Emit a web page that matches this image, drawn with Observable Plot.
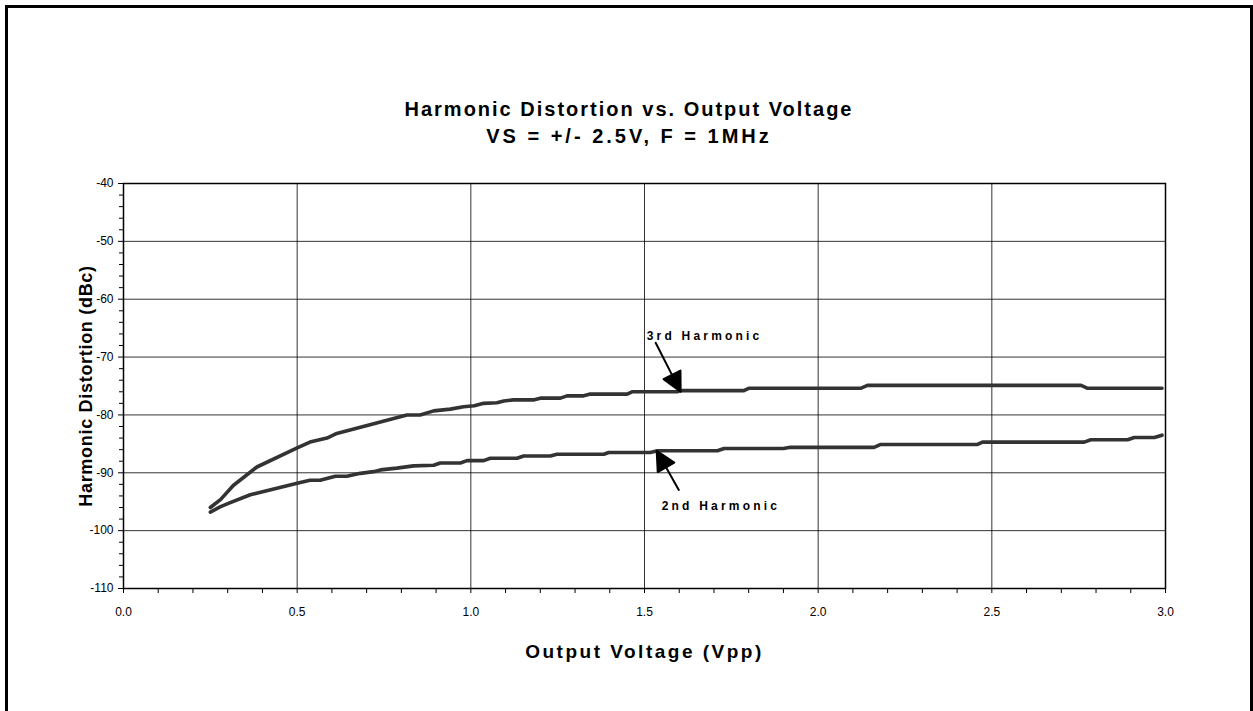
<!DOCTYPE html>
<html><head><meta charset="utf-8">
<script src="https://cdn.jsdelivr.net/npm/d3@7"></script>
<script src="https://cdn.jsdelivr.net/npm/@observablehq/plot@0.6"></script>
<style>
html,body{margin:0;padding:0;background:#fff;width:1253px;height:711px;overflow:hidden;font-family:"Liberation Sans",Arial,sans-serif;}
#frame{position:absolute;left:5px;top:5px;width:1248px;height:760px;border:3px solid #000;border-bottom:none;box-sizing:border-box;}
.title{position:absolute;left:5px;width:1248px;text-align:center;font-weight:bold;font-size:20px;line-height:23px;color:#000;}
#t1{letter-spacing:2px;}
#t2{letter-spacing:3px;}
#chart{position:absolute;left:0;top:150px;}
</style></head><body>
<div id="frame"></div>
<div class="title" id="t1" style="top:98px">Harmonic Distortion vs. Output Voltage</div>
<div class="title" id="t2" style="top:125px">VS = +/- 2.5V, F = 1MHz</div>
<div id="chart"></div>
<script>
// ---- data ----
const voltage3 = [0.25,0.28,0.316,0.384,0.50,0.537,0.586,0.614,0.816,0.854,0.893,0.941,0.979,1.01,1.037,1.075,1.095,1.123,1.18,1.20,1.258,1.277,1.325,1.344,1.45,1.464,1.594,1.604,1.786,1.80,2.122,2.142,2.757,2.776,2.99];
const harmonic3 = [-96.0,-94.6,-92.2,-89.0,-85.7,-84.7,-84.0,-83.2,-80.0,-80.0,-79.3,-79.0,-78.6,-78.4,-78.0,-77.9,-77.6,-77.4,-77.4,-77.1,-77.1,-76.7,-76.7,-76.4,-76.4,-76.0,-76.0,-75.8,-75.8,-75.4,-75.4,-74.9,-74.9,-75.4,-75.4];
const voltage2 = [0.25,0.278,0.302,0.365,0.50,0.537,0.566,0.61,0.643,0.682,0.72,0.74,0.787,0.835,0.893,0.912,0.97,0.989,1.037,1.056,1.133,1.152,1.229,1.248,1.383,1.397,1.517,1.537,1.71,1.729,1.90,1.92,2.161,2.18,2.459,2.473,2.766,2.785,2.891,2.91,2.968,2.99];
const harmonic2 = [-96.8,-95.9,-95.3,-93.8,-91.8,-91.3,-91.3,-90.6,-90.6,-90.1,-89.8,-89.5,-89.2,-88.8,-88.7,-88.3,-88.3,-87.9,-87.9,-87.5,-87.5,-87.1,-87.1,-86.8,-86.8,-86.5,-86.5,-86.2,-86.2,-85.8,-85.8,-85.6,-85.6,-85.1,-85.1,-84.7,-84.7,-84.3,-84.3,-83.9,-83.9,-83.5];
const xTicks = [0, 0.5, 1.0, 1.5, 2.0, 2.5, 3.0];
const xMinorTicks = [0.1,0.2,0.3,0.4,0.6,0.7,0.8,0.9,1.1,1.2,1.3,1.4,1.6,1.7,1.8,1.9,2.1,2.2,2.3,2.4,2.6,2.7,2.8,2.9];
const yTicks = [-110,-100,-90,-80,-70,-60,-50,-40];
const yMinorTicks = [-108,-106,-104,-102,-98,-96,-94,-92,-88,-86,-84,-82,-78,-76,-74,-72,-68,-66,-64,-62,-58,-56,-54,-52,-48,-46,-44,-42];
const annotationLabels = ["3rd Harmonic", "2nd Harmonic"];
const annotationLabelX = [1.673, 1.72];
const annotationLabelY = [-66.3, -95.8];
const annotationTipX = [1.604, 1.535];
const annotationTipY = [-76.0, -86.2];
const xTitle = "Output Voltage (Vpp)";
const yTitle = "Harmonic Distortion (dBc)";

// ---- tables ----
const third = voltage3.map((x, i) => ({x, y: harmonic3[i]}));
const second = voltage2.map((x, i) => ({x, y: harmonic2[i]}));
const annots = annotationLabels.map((label, i) => ({label, lx: annotationLabelX[i], ly: annotationLabelY[i], tx: annotationTipX[i], ty: annotationTipY[i]}));

// arrow style (direction & length in pixels)
const arrowAngle = [153, -29.5];
const arrowLength = [55, 45];
const arrowShape = {
  draw(context, l) {
    const h = 19, w = 9.5;
    context.moveTo(0, 0);
    context.lineTo(0, -l + h);
    context.moveTo(0, -l);
    context.lineTo(-w, -l + h);
    context.lineTo(w, -l + h);
    context.closePath();
  }
};

const chart = Plot.plot({
  width: 1253,
  height: 530,
  marginLeft: 123,
  marginRight: 88,
  marginTop: 33,
  marginBottom: 92,
  style: {background: "transparent", fontFamily: "'Liberation Sans', Arial, sans-serif", color: "#000", overflow: "visible"},
  x: {domain: [0, 3]},
  y: {domain: [-110, -40]},
  marks: [
    Plot.gridX({ticks: xTicks, stroke: "#000", strokeOpacity: 0.8, strokeWidth: 1}),
    Plot.gridY({ticks: yTicks, stroke: "#000", strokeOpacity: 0.8, strokeWidth: 1}),
    Plot.axisX({ticks: xMinorTicks, tickSize: 5, tickFormat: () => "", label: null}),
    Plot.axisY({ticks: yMinorTicks, tickSize: 4, tickFormat: () => "", label: null}),
    Plot.axisX({ticks: xTicks, tickSize: 5, tickPadding: 14, tickFormat: d3.format(".1f"), fontSize: 12, label: null}),
    Plot.axisY({ticks: yTicks, tickSize: 5, tickPadding: 5, tickFormat: d => String(d), fontSize: 12, label: null}),
    Plot.frame({stroke: "#000", strokeWidth: 1.5}),
    Plot.line(third, {x: "x", y: "y", stroke: "#333", strokeWidth: 3.6, strokeLinejoin: "round", strokeLinecap: "round"}),
    Plot.line(second, {x: "x", y: "y", stroke: "#333", strokeWidth: 3.6, strokeLinejoin: "round", strokeLinecap: "round"}),
    Plot.vector([annots[0]], {x: "tx", y: "ty", rotate: arrowAngle[0], length: arrowLength[0], anchor: "end", shape: arrowShape, fill: "#000", stroke: "#000", strokeWidth: 2}),
    Plot.vector([annots[1]], {x: "tx", y: "ty", rotate: arrowAngle[1], length: arrowLength[1], anchor: "end", shape: arrowShape, fill: "#000", stroke: "#000", strokeWidth: 2}),
    Plot.text(annots, {x: "lx", y: "ly", text: "label", fontSize: 12, fontWeight: "bold", fill: "#000"}),
    Plot.text([xTitle], {text: d => d, frameAnchor: "bottom", lineAnchor: "middle", textAnchor: "middle", dy: 63, fontSize: 19, fontWeight: "bold", fill: "#000"}),
    Plot.text([yTitle], {text: d => d, frameAnchor: "left", lineAnchor: "middle", textAnchor: "middle", rotate: -90, dx: -37, fontSize: 18, fontWeight: "bold", fill: "#000"})
  ]
});
// letter spacing of the wide Excel-style lettering
for (const t of chart.querySelectorAll("text")) {
  const s = t.textContent;
  if (annotationLabels.includes(s)) t.style.letterSpacing = "3.2px";
  else if (s === xTitle) t.style.letterSpacing = "2.5px";
  else if (s === yTitle) t.style.letterSpacing = "0.7px";
}
document.getElementById("chart").appendChild(chart);
</script>
</body></html>
